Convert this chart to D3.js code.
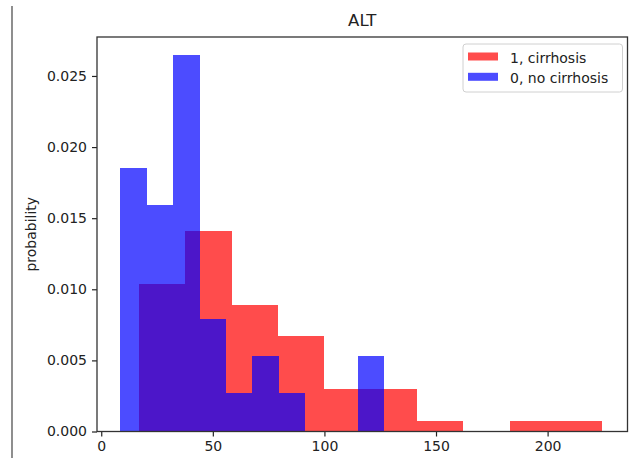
<!DOCTYPE html>
<html>
<head>
<meta charset="utf-8">
<script src="https://cdn.jsdelivr.net/npm/d3@7"></script>
<style>
  body { margin: 0; background: #fff; }
  text { font-family: "DejaVu Sans", sans-serif; fill: #222; }
</style>
</head>
<body>
<script>
// histogram bins (density per bin)
var redEdges = [16.9, 37.7, 58.4, 79.2, 99.9, 120.7, 141.5, 162.2, 183.0, 203.7, 224.5];
var redDensity = [0.0104, 0.0141, 0.0089, 0.0067, 0.0030, 0.0030, 0.00077, 0, 0.00077, 0.00077];
var blueEdges = [8.6, 20.4, 32.2, 44.1, 55.9, 67.7, 79.5, 91.4, 103.2, 115.0, 126.8];
var blueDensity = [0.0185, 0.0159, 0.0265, 0.0079, 0.0027, 0.0053, 0.0027, 0, 0, 0.0053];
var seriesNames = ["1, cirrhosis", "0, no cirrhosis"];
var xTicks = [0, 50, 100, 150, 200];
var yTicks = [0, 0.005, 0.010, 0.015, 0.020, 0.025];

drawChart();

function drawChart(){
    var width = 633, height = 458;
    var mLeft = 97, mRight = 627.5, mTop = 37, mBottom = 431.5;

    var svg = d3.select("body").append("svg")
        .attr("width", width)
        .attr("height", height);

    // stray border line at the left of the screenshot
    svg.append("line")
        .attr("x1", 12).attr("x2", 12)
        .attr("y1", 6).attr("y2", height)
        .attr("stroke", "#444").attr("stroke-width", 1.2);

    var x = d3.scaleLinear().domain([-1.9, 235.8]).range([mLeft, mRight]);
    var y = d3.scaleLinear().domain([0, 0.02774]).range([mBottom, mTop]);

    function bins(edges, vals) {
        return vals.map(function(v, i) { return {x0: edges[i], x1: edges[i + 1], v: v}; });
    }

    var series = [
        {name: seriesNames[0], color: "red", data: bins(redEdges, redDensity)},
        {name: seriesNames[1], color: "blue", data: bins(blueEdges, blueDensity)}
    ];

    series.forEach(function(s) {
        svg.append("g")
            .attr("fill", s.color)
            .attr("fill-opacity", 0.7)
            .attr("shape-rendering", "crispEdges")
            .selectAll("rect")
            .data(s.data.filter(function(d) { return d.v > 0; }))
            .enter()
            .append("rect")
            .attr("x", function(d) { return Math.round(x(d.x0)); })
            .attr("width", function(d) { return Math.round(x(d.x1)) - Math.round(x(d.x0)); })
            .attr("y", function(d) { return y(d.v); })
            .attr("height", function(d) { return y(0) - y(d.v); });
    });

    // axes
    var xAxis = svg.append("g")
        .attr("transform", "translate(0," + mBottom + ")")
        .call(d3.axisBottom(x).tickValues(xTicks).tickSize(5).tickPadding(5).tickFormat(d3.format("d")));
    var yAxis = svg.append("g")
        .attr("transform", "translate(" + mLeft + ",0)")
        .call(d3.axisLeft(y).tickValues(yTicks).tickSize(5).tickPadding(5).tickFormat(d3.format(".3f")));

    [xAxis, yAxis].forEach(function(a) {
        a.select(".domain").remove();
        a.selectAll("line").attr("stroke", "#222").attr("stroke-width", 1.2);
        a.selectAll("text").style("font-size", "14px").attr("fill", "#222");
    });

    // frame
    svg.append("rect")
        .attr("x", mLeft).attr("y", mTop)
        .attr("width", mRight - mLeft).attr("height", mBottom - mTop)
        .attr("fill", "none").attr("stroke", "#333").attr("stroke-width", 1.3);

    // title and y label
    svg.append("text")
        .attr("x", (mLeft + mRight) / 2).attr("y", 26)
        .attr("text-anchor", "middle")
        .style("font-size", "16.5px")
        .text("ALT");

    svg.append("text")
        .attr("transform", "translate(36," + ((mTop + mBottom) / 2) + ") rotate(-90)")
        .attr("text-anchor", "middle")
        .style("font-size", "14px")
        .text("probability");

    // legend
    var legend = svg.append("g");
    legend.append("rect")
        .attr("x", 463).attr("y", 44)
        .attr("width", 159.5).attr("height", 48)
        .attr("rx", 3)
        .attr("fill", "#fff").attr("fill-opacity", 0.8)
        .attr("stroke", "#d0d0d0");

    series.forEach(function(s, i) {
        var ly = 52.5 + i * 20.3;
        legend.append("rect")
            .attr("x", 468).attr("y", ly)
            .attr("width", 30).attr("height", 8)
            .attr("fill", s.color).attr("fill-opacity", 0.7);
        legend.append("text")
            .attr("x", 510).attr("y", ly + 10)
            .style("font-size", "14px")
            .text(s.name);
    });
}
</script>
</body>
</html>
